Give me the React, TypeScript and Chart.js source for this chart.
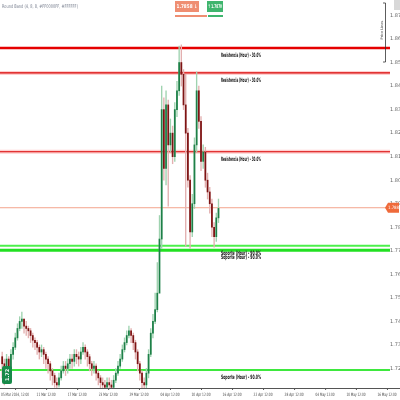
import React, { useEffect, useRef } from 'react';
import { Chart, registerables } from 'chart.js';

Chart.register(...registerables);

// ---- data ----
const firstOpen = 1.725;
const closes = [
  1.722, 1.718, 1.724, 1.72, 1.726, 1.729, 1.733, 1.737, 1.74, 1.741,
  1.738, 1.737, 1.736, 1.734, 1.732, 1.731, 1.729, 1.727, 1.728, 1.726,
  1.724, 1.722, 1.719, 1.717, 1.714, 1.713, 1.716, 1.719, 1.721, 1.72,
  1.722, 1.724, 1.723, 1.726, 1.725, 1.724, 1.727, 1.729, 1.727, 1.725,
  1.722, 1.72, 1.721, 1.718, 1.716, 1.714, 1.713, 1.712, 1.714, 1.713,
  1.712, 1.715, 1.718, 1.721, 1.724, 1.728, 1.731, 1.734, 1.736, 1.734,
  1.731, 1.727, 1.722, 1.718, 1.714, 1.713, 1.718, 1.726, 1.735, 1.74,
  1.745, 1.752, 1.775, 1.83, 1.805, 1.832, 1.815, 1.82, 1.81, 1.83,
  1.838, 1.85, 1.845, 1.832, 1.82, 1.8, 1.778, 1.79, 1.815, 1.838,
  1.825, 1.808, 1.812, 1.8, 1.795, 1.79, 1.78, 1.776, 1.784, 1.788,
];
const highs = [
  1.727, 1.724, 1.726, 1.725, 1.728, 1.731, 1.735, 1.739, 1.742, 1.744,
  1.741, 1.74, 1.738, 1.737, 1.735, 1.733, 1.732, 1.73, 1.73, 1.729,
  1.727, 1.725, 1.723, 1.72, 1.718, 1.716, 1.718, 1.721, 1.723, 1.723,
  1.724, 1.726, 1.726, 1.728, 1.728, 1.727, 1.729, 1.731, 1.73, 1.728,
  1.726, 1.723, 1.723, 1.722, 1.719, 1.717, 1.716, 1.715, 1.716, 1.716,
  1.715, 1.717, 1.72, 1.723, 1.726, 1.73, 1.733, 1.736, 1.738, 1.737,
  1.735, 1.732, 1.728, 1.723, 1.719, 1.716, 1.72, 1.728, 1.737, 1.743,
  1.752, 1.765, 1.785, 1.84, 1.835, 1.838, 1.834, 1.826, 1.823, 1.833,
  1.842, 1.857, 1.8575, 1.847, 1.845, 1.822, 1.802, 1.794, 1.818, 1.846,
  1.84, 1.827, 1.815, 1.814, 1.803, 1.797, 1.792, 1.782, 1.786, 1.792,
];
const lows = [
  1.716, 1.713, 1.716, 1.717, 1.719, 1.724, 1.728, 1.732, 1.736, 1.737,
  1.735, 1.734, 1.733, 1.731, 1.729, 1.728, 1.726, 1.724, 1.725, 1.722,
  1.72, 1.718, 1.715, 1.713, 1.712, 1.711, 1.712, 1.715, 1.718, 1.717,
  1.718, 1.72, 1.72, 1.721, 1.722, 1.721, 1.722, 1.726, 1.724, 1.721,
  1.719, 1.717, 1.718, 1.715, 1.713, 1.711, 1.71, 1.709, 1.71, 1.711,
  1.709, 1.711, 1.714, 1.717, 1.72, 1.723, 1.727, 1.73, 1.733, 1.731,
  1.728, 1.724, 1.719, 1.715, 1.711, 1.709, 1.711, 1.716, 1.725, 1.733,
  1.739, 1.744, 1.77, 1.771, 1.8, 1.798, 1.789, 1.812, 1.807, 1.808,
  1.827, 1.836, 1.84, 1.83, 1.772, 1.797, 1.771, 1.776, 1.788, 1.812,
  1.822, 1.804, 1.805, 1.797, 1.792, 1.786, 1.776, 1.7715, 1.774, 1.782,
];

const priceTicks = [1.72, 1.73, 1.74, 1.75, 1.76, 1.77, 1.78, 1.79, 1.8, 1.81, 1.82, 1.83, 1.84, 1.85, 1.86, 1.87];
const xTickLabels = [
  '05 Mar 2024, 12:00', '11 Mar 12:00', '17 Mar 12:00', '23 Mar 12:00', '29 Mar 12:00',
  '04 Apr 12:00', '10 Apr 12:00', '16 Apr 12:00', '22 Apr 12:00', '28 Apr 12:00',
  '04 May 12:00', '10 May 12:00', '16 May 12:00',
];
const xTickValues = [5.9, 20.1, 34.3, 48.5, 62.6, 76.8, 91.0, 105.2, 119.4, 133.6, 147.8, 161.9, 176.1];

const resistanceLevels = [1.8562, 1.8456, 1.8121];
const resistanceLabels = ['Resistencia (Hour) - 30.0%', 'Resistencia (Hour) - 30.0%', 'Resistencia (Hour) - 30.0%'];
const supportLevels = [1.7721, 1.7702, 1.7194];
const supportLabels = ['Soporte (Hour) - 90.0%', 'Soporte (Hour) - 90.0%', 'Soporte (Hour) - 90.0%'];
const currentPrice = 1.7883;
const sellLabel = '1.7858 ↓';
const buyLabel = '↑ 1.7870';
const leftTagLabel = '1.72';
const titleText = 'Round Band (4, 8, 8, #FF0000FF, #FFFFFF)';

const X_MIN = -1;
const X_MAX = 177.5;

export default function App() {
  const ref = useRef<HTMLCanvasElement | null>(null);

  useEffect(() => {
    if (!ref.current) return;
    const opens = closes.map((c, i) => (i === 0 ? firstOpen : closes[i - 1]));
    const isUp = closes.map((c, i) => c >= opens[i]);

    const hline = (p: number, color: string, width: number, order = 2) => ({
      type: 'line' as const,
      data: [{ x: X_MIN, y: p }, { x: X_MAX, y: p }],
      borderColor: color,
      borderWidth: width,
      pointRadius: 0,
      order,
    });

    const overlay = {
      id: 'overlay',
      afterDraw(chart: any) {
        const { ctx, chartArea, scales } = chart;
        const xs = scales.x;
        const ys = scales.y;
        ctx.save();
        // x axis line
        ctx.strokeStyle = '#555';
        ctx.lineWidth = 1;
        ctx.beginPath();
        ctx.moveTo(0, chartArea.bottom + 0.5);
        ctx.lineTo(400, chartArea.bottom + 0.5);
        ctx.stroke();
        // x labels
        ctx.fillStyle = '#444';
        ctx.font = '4.5px "DejaVu Sans", sans-serif';
        ctx.textAlign = 'center';
        ctx.textBaseline = 'middle';
        xTickValues.forEach((v, i) => {
          const px = xs.getPixelForValue(v);
          ctx.beginPath();
          ctx.moveTo(px + 0.5, chartArea.bottom);
          ctx.lineTo(px + 0.5, chartArea.bottom + 2);
          ctx.stroke();
          const w = i === 0 ? 28 : 19;
          ctx.fillText(xTickLabels[i], px, chartArea.bottom + 7, w);
        });
        // level labels
        const lx = xs.getPixelForValue(closes.length - 1) + 2.5;
        ctx.fillStyle = '#111';
        ctx.font = 'bold 6px "Liberation Sans Narrow", "DejaVu Sans Condensed", sans-serif';
        ctx.textAlign = 'left';
        resistanceLevels.forEach((p, i) => {
          ctx.fillText(resistanceLabels[i], lx, ys.getPixelForValue(p) + 7.5, 40);
        });
        supportLevels.forEach((p, i) => {
          ctx.fillText(supportLabels[i], lx, ys.getPixelForValue(p) + 7.5, 40);
        });
        // title
        ctx.fillStyle = '#7a8090';
        ctx.font = '5px "DejaVu Sans", sans-serif';
        ctx.textBaseline = 'middle';
        ctx.fillText(titleText, 2, 7, 76);
        // top boxes
        ctx.fillStyle = '#ef8e72';
        ctx.fillRect(175, 1, 24, 11);
        ctx.fillRect(175, 15, 32, 2);
        ctx.fillStyle = '#3fb56e';
        ctx.fillRect(207, 1, 16, 11);
        ctx.fillRect(208, 15, 15, 2);
        ctx.fillStyle = '#fff';
        ctx.font = 'bold 5px "DejaVu Sans", sans-serif';
        ctx.textAlign = 'center';
        ctx.fillText(sellLabel, 187, 7, 21);
        ctx.fillText(buyLabel, 215, 7, 14);
        // left tag
        const ty = ys.getPixelForValue(supportLevels[2]) + 5;
        ctx.fillStyle = '#188a49';
        ctx.beginPath();
        ctx.roundRect(2, ty - 9, 10, 18, 2);
        ctx.fill();
        ctx.save();
        ctx.translate(7, ty);
        ctx.rotate(-Math.PI / 2);
        ctx.fillStyle = '#fff';
        ctx.font = 'bold 5px "DejaVu Sans", sans-serif';
        ctx.fillText(leftTagLabel, 0, 0.5);
        ctx.restore();
        // current price tag
        const cy = ys.getPixelForValue(currentPrice);
        ctx.fillStyle = '#ef6a3a';
        ctx.beginPath();
        ctx.moveTo(385, cy);
        ctx.lineTo(388, cy - 5);
        ctx.lineTo(399, cy - 5);
        ctx.lineTo(399, cy + 5);
        ctx.lineTo(388, cy + 5);
        ctx.closePath();
        ctx.fill();
        ctx.fillStyle = '#fff';
        ctx.font = '4.5px "DejaVu Sans", sans-serif';
        ctx.fillText(currentPrice.toFixed(3), 393.5, cy + 0.5, 11);
        // bracket
        ctx.strokeStyle = '#333';
        ctx.lineWidth = 0.8;
        ctx.beginPath();
        ctx.moveTo(383, 3);
        ctx.lineTo(385.5, 3);
        ctx.lineTo(385.5, 62);
        ctx.lineTo(383, 62);
        ctx.stroke();
        ctx.save();
        ctx.translate(382, 30);
        ctx.rotate(-Math.PI / 2);
        ctx.fillStyle = '#555';
        ctx.font = '3.5px "DejaVu Sans", sans-serif';
        ctx.fillText('Price Lines', 0, 0, 20);
        ctx.restore();
        // top-right block
        ctx.fillStyle = '#d8d8d8';
        ctx.fillRect(394, 0, 6, 10);
        ctx.restore();
      },
    };

    const chart = new Chart(ref.current, {
      type: 'bar',
      data: {
        datasets: [
          {
            type: 'bar',
            data: closes.map((c, i) => ({ x: i, y: [lows[i], highs[i]] })) as any,
            backgroundColor: isUp.map((u) => (u ? '#9fd3b0' : '#e3b0b0')),
            barThickness: 0.7,
            grouped: false,
            order: 1,
          } as any,
          {
            type: 'bar',
            data: closes.map((c, i) => ({ x: i, y: [opens[i], c] })) as any,
            backgroundColor: isUp.map((u) => (u ? '#1e8048' : '#7e1414')),
            barThickness: 1.1,
            minBarLength: 0.8,
            grouped: false,
            order: 0,
          } as any,
          hline(resistanceLevels[0], '#e50000', 2.5),
          hline(resistanceLevels[1], 'rgba(255,120,120,0.35)', 4, 3),
          hline(resistanceLevels[1], '#d80000', 1.2),
          hline(resistanceLevels[2], 'rgba(255,120,120,0.35)', 4, 3),
          hline(resistanceLevels[2], '#d80000', 1.2),
          hline(currentPrice, '#f3a48c', 1),
          hline(supportLevels[0], '#4cf04c', 2),
          hline(supportLevels[1], '#22e022', 3),
          hline(supportLevels[2], '#3ee83e', 2),
        ] as any,
      },
      options: {
        responsive: false,
        maintainAspectRatio: false,
        animation: false,
        devicePixelRatio: 1,
        layout: { padding: { left: 0, top: 0, right: 0, bottom: 12 } },
        plugins: { legend: { display: false }, tooltip: { enabled: false } },
        scales: {
          x: {
            type: 'linear',
            min: X_MIN,
            max: X_MAX,
            display: false,
            offset: false,
          },
          y: {
            position: 'right',
            min: 1.7117,
            max: 1.8753,
            grid: { display: false, drawTicks: false },
            border: { display: false },
            ticks: {
              padding: 0,
              color: '#666',
              font: { size: 5, family: '"DejaVu Sans", sans-serif' },
              callback: (v: any) => Number(v).toFixed(3),
            },
            afterBuildTicks: (scale: any) => {
              scale.ticks = priceTicks.map((v) => ({ value: v }));
            },
            afterFit: (scale: any) => {
              scale.width = 10;
            },
          },
        },
      } as any,
      plugins: [overlay],
    });
    return () => chart.destroy();
  }, []);

  return (
    <div style={{ position: 'fixed', left: 0, top: 0, width: 400, height: 400, background: '#fff' }}>
      <canvas ref={ref} width={400} height={400} style={{ width: 400, height: 400, display: 'block' }} />
    </div>
  );
}
